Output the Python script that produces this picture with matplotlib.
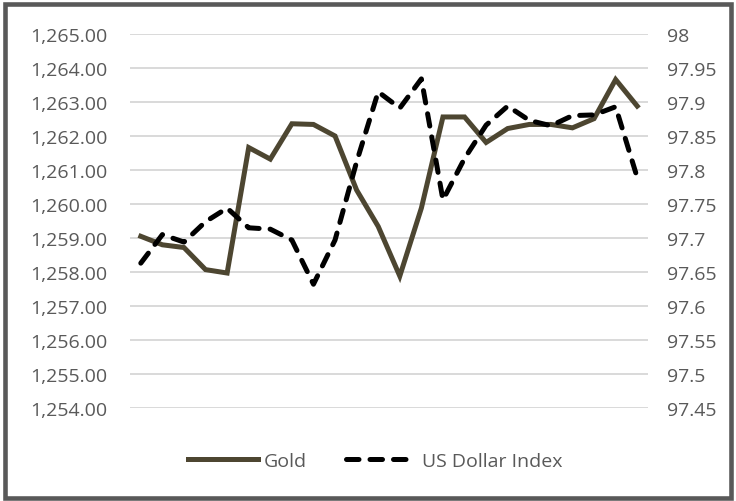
import matplotlib
matplotlib.use("Agg")
import matplotlib.pyplot as plt
from matplotlib.patches import Rectangle
from matplotlib.ticker import FuncFormatter, MultipleLocator

plt.rcParams['font.family'] = ['Open Sans', 'DejaVu Sans']

# values (24 daily points)
gold = [1259.05, 1258.80, 1258.72, 1258.07, 1257.97, 1261.66, 1261.32, 1262.36,
        1262.34, 1262.00, 1260.41, 1259.34, 1257.88, 1259.88, 1262.56, 1262.56,
        1261.81, 1262.22, 1262.34, 1262.34, 1262.24, 1262.51, 1263.66, 1262.88]
usd = [97.663, 97.705, 97.694, 97.724, 97.744, 97.715, 97.713, 97.697,
       97.632, 97.697, 97.812, 97.915, 97.891, 97.934, 97.756, 97.817,
       97.866, 97.894, 97.873, 97.865, 97.880, 97.881, 97.893, 97.789]
x = list(range(len(gold)))

text_col = '#595959'
grid_col = '#d9d9d9'
gold_col = '#4d4631'

fig = plt.figure(figsize=(7.36, 5.02), dpi=100)
ax1 = fig.add_axes([130/736, 1 - 409/502, 518/736, 374/502])
ax2 = ax1.twinx()

ax1.set_ylim(1254, 1265)
ax2.set_ylim(97.45, 98)
ax1.set_xlim(-0.5, len(x) - 0.5)
ax1.yaxis.set_major_locator(MultipleLocator(1))
ax2.yaxis.set_major_locator(MultipleLocator(0.05))
ax1.yaxis.set_major_formatter(FuncFormatter(lambda v, p: f"{v:,.2f}"))
ax2.yaxis.set_major_formatter(FuncFormatter(lambda v, p: f"{v:.2f}".rstrip('0').rstrip('.')))

for ax in (ax1, ax2):
    for s in ax.spines.values():
        s.set_visible(False)
    ax.tick_params(axis='y', length=0, labelsize=14, colors=text_col)
    ax.set_xticks([])
ax1.tick_params(axis='y', pad=16)
ax2.tick_params(axis='y', pad=14)

ax1.grid(axis='y', color=grid_col, linewidth=1.4)
ax1.set_axisbelow(True)

l1, = ax1.plot(x, gold, color=gold_col, linewidth=3.6, solid_joinstyle='miter',
               label='Gold', zorder=3)
l2, = ax2.plot(x, usd, color='black', linewidth=3.6, dashes=(2.5, 2.2),
               dash_capstyle='round', label='US Dollar Index', zorder=3)

leg = fig.legend(handles=[l1, l2], loc='center', bbox_to_anchor=(375/736, 1 - 462/502),
                 ncol=2, frameon=False, fontsize=14, handlelength=3.6,
                 columnspacing=2.0, handletextpad=0.3)
for t in leg.get_texts():
    t.set_color(text_col)

fig.patches.append(Rectangle((5/736, 3/502), 726/736, 494/502, transform=fig.transFigure,
                             fill=False, edgecolor='#595959', linewidth=3.3))

fig.savefig('out.png', dpi=100)
